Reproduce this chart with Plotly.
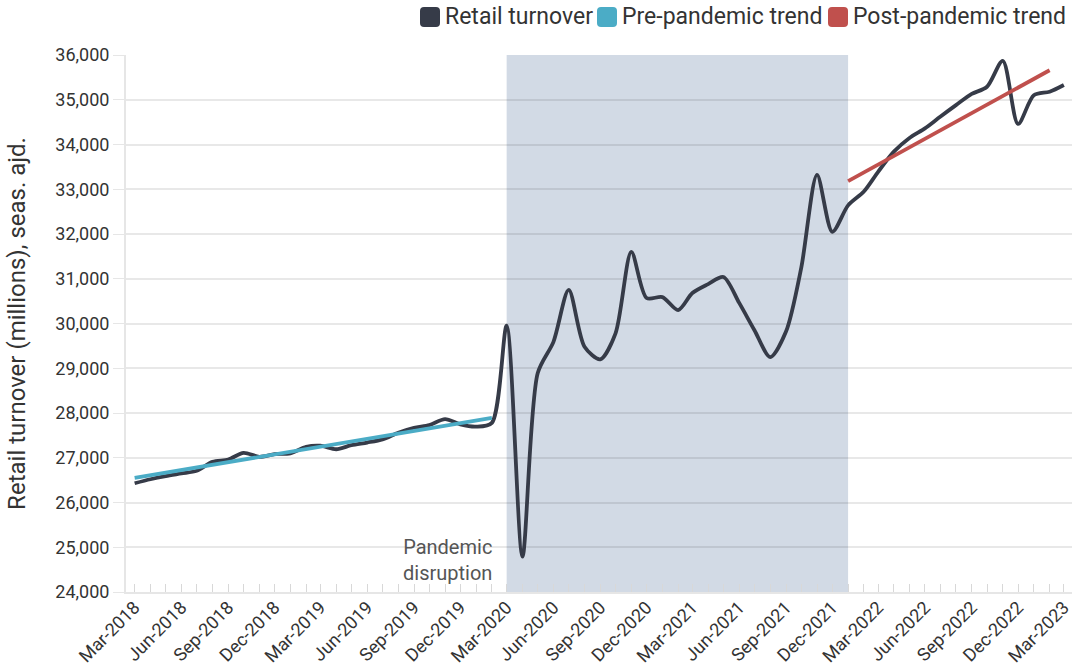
import pandas as pd
import plotly.graph_objects as go

# monthly retail turnover, Mar-2018 .. Mar-2023 (millions, seas. adj.)
months = pd.date_range("2018-03-01", periods=61, freq="MS")
turnover = [26430, 26520, 26590, 26650, 26710, 26910, 26960, 27110, 27020, 27080,
            27100, 27245, 27270, 27190, 27280, 27340, 27410, 27560, 27670, 27730,
            27865, 27745, 27695, 27780, 29950, 24790, 28890, 29590, 30750, 29480,
            29200, 29780, 31600, 30570, 30590, 30300, 30680, 30880, 31040, 30460,
            29850, 29250, 29820, 31250, 33320, 32050, 32640, 32950, 33390, 33840,
            34140, 34360, 34620, 34880, 35130, 35290, 35870, 34460, 35100, 35180,
            35330]

pre_trend_months = ["2018-03-01", "2020-02-01"]
pre_trend_values = [26550, 27890]
post_trend_months = ["2022-01-01", "2023-02-01"]
post_trend_values = [33180, 35660]

pandemic_period = ["2020-03-01", "2022-01-01"]

dark = "#363b48"
blue = "#4bacc6"
red = "#c0504d"
grid = "rgba(0,0,0,0.09)"
font = "Roboto"

# plot area in pixels (for placing the hand-made legend)
L, R, T, B = 126, 1072, 55, 592


def px_x(p):
    return (p - L) / (R - L)


def px_y(p):
    return 1 + (T - p) / (B - T)


fig = go.Figure()
fig.add_vrect(x0=pandemic_period[0], x1=pandemic_period[1], fillcolor="#d2dae5",
              line_width=0, layer="below")

fig.add_trace(go.Scatter(x=months, y=turnover, mode="lines", name="Retail turnover",
                         line=dict(color=dark, width=3.8, shape="spline", smoothing=0.8)))
fig.add_trace(go.Scatter(x=pre_trend_months, y=pre_trend_values, mode="lines", name="Pre-pandemic trend",
                         line=dict(color=blue, width=3.8)))
fig.add_trace(go.Scatter(x=post_trend_months, y=post_trend_values, mode="lines", name="Post-pandemic trend",
                         line=dict(color=red, width=3.8)))

# legend: rounded squares + labels, like the original
rounded_sq = ("M -6,-10 L 6,-10 Q 10,-10 10,-6 L 10,6 Q 10,10 6,10 L -6,10 "
              "Q -10,10 -10,6 L -10,-6 Q -10,-10 -6,-10 Z")
legend_items = [("Retail turnover", dark, 430), ("Pre-pandemic trend", blue, 607),
                ("Post-pandemic trend", red, 838)]
for name, c, sq_x in legend_items:
    fig.add_shape(type="path", path=rounded_sq, xref="paper", yref="paper",
                  xsizemode="pixel", ysizemode="pixel", xanchor=px_x(sq_x), yanchor=px_y(17),
                  fillcolor=c, line_width=0)
    fig.add_annotation(x=px_x(sq_x + 13), y=px_y(17), xref="paper", yref="paper", text=name,
                       showarrow=False, xanchor="left", yanchor="middle",
                       font=dict(family=font, size=23, color="#333"))

fig.add_annotation(x="2020-02-05", y=24710, xref="x", yref="y", text="Pandemic<br>disruption",
                   showarrow=False, xanchor="right", yanchor="middle", align="right",
                   font=dict(family=font, size=20, color="#555"))

fig.update_layout(
    width=1076, height=670,
    margin=dict(l=L, r=1076 - R, t=T, b=670 - B, autoexpand=False),
    plot_bgcolor="white", paper_bgcolor="white",
    font=dict(family=font, size=18, color="#333"),
    showlegend=False,
    xaxis=dict(range=["2018-02-12", "2023-03-17"], tickformat="%b-%Y", dtick="M3", tick0="2018-03-01",
               tickangle=-45, ticks="inside", ticklen=8, tickcolor="#d8d8d8", showgrid=False,
               showline=True, linecolor="#e6e6e6", linewidth=2, automargin=False, ticklabelstandoff=-4,
               minor=dict(dtick="M1", ticks="inside", ticklen=8, tickcolor="#d8d8d8", showgrid=False),
               tickfont=dict(size=18, color="#333")),
    yaxis=dict(range=[24000, 36000], dtick=1000, tickformat=",", showgrid=True, gridcolor=grid, gridwidth=2,
               ticks="outside", ticklen=11, tickcolor="#e6e6e6", showline=True, linecolor="#e6e6e6", linewidth=2,
               zeroline=False, automargin=False, tickfont=dict(size=18, color="#333"),
               title=dict(text="Retail turnover (millions), seas. ajd.", font=dict(size=24, color="#333"),
                          standoff=23)),
)

# drop the default page margin so the figure sits at the window's corner
fig.write_html("out.html", config={"displayModeBar": False},
               post_script="document.body.style.margin='0';")
